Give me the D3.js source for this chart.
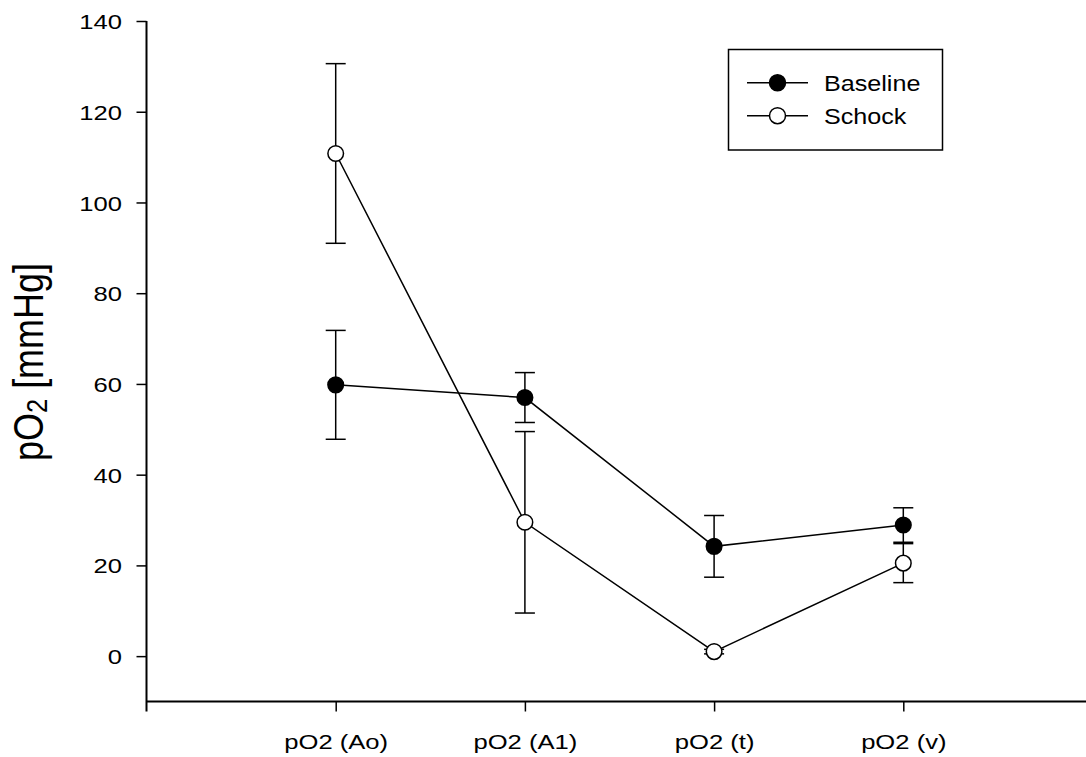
<!DOCTYPE html>
<html>
<head>
<meta charset="utf-8">
<script src="https://cdn.jsdelivr.net/npm/d3@7/dist/d3.min.js"></script>
<style>
  html, body { margin: 0; padding: 0; background: #fff; }
  svg text { font-family: "Liberation Sans", Arial, sans-serif; fill: #000; }
</style>
</head>
<body>
<svg id="chart" width="1086" height="757"></svg>
<script>
// ---- data ----
const categories = ["pO2 (Ao)", "pO2 (A1)", "pO2 (t)", "pO2 (v)"];
const baselineMean = [59.8, 57.0, 24.2, 28.9];
const baselineErr  = [12.0, 5.5, 6.8, 3.8];
const schockMean   = [110.8, 29.5, 1.0, 20.5];
const schockErr    = [19.8, 20.0, 0.5, 4.3];
const yTicks = [0, 20, 40, 60, 80, 100, 120, 140];
const seriesNames = ["Baseline", "Schock"];

const SX = 1.22; // horizontal text stretch seen in the reference

const svg = d3.select("#chart");
const x = d3.scaleLinear().domain([0, 5]).range([146.5, 1092.5]);
const y = d3.scaleLinear().domain([-10, 140]).range([701.5, 21]);

// y axis
const yAxis = svg.append("g").attr("transform", `translate(${x(0)},0)`)
  .call(d3.axisLeft(y).tickValues(yTicks).tickSize(10).tickSizeOuter(0));
yAxis.select(".domain").attr("stroke", "#000").attr("stroke-width", 2)
  .attr("d", `M0,${y(140)}V${y(-10) + 10}`);
yAxis.selectAll(".tick line").attr("stroke", "#000").attr("stroke-width", 1.5);
yAxis.selectAll(".tick text")
  .attr("font-size", 21).attr("font-family", "Liberation Sans, Arial, sans-serif")
  .attr("x", -24.5 / SX).attr("dy", "0.36em")
  .attr("transform", `scale(${SX},1)`);

// x axis
const xAxis = svg.append("g").attr("transform", `translate(0,${y(-10)})`)
  .call(d3.axisBottom(x).tickValues([1, 2, 3, 4]).tickSize(10).tickSizeOuter(0)
    .tickFormat((d) => categories[d - 1]));
xAxis.select(".domain").attr("stroke", "#000").attr("stroke-width", 2)
  .attr("d", `M${x(0)},0H1086`);
xAxis.selectAll(".tick line").attr("stroke", "#000").attr("stroke-width", 1.5);
xAxis.selectAll(".tick text")
  .attr("font-size", 21).attr("font-family", "Liberation Sans, Arial, sans-serif")
  .attr("y", 47.5).attr("dy", 0)
  .attr("transform", `scale(${SX},1)`);

// y title
const yt = svg.append("text")
  .attr("transform", `translate(43,362) rotate(-90) scale(1,1.18)`)
  .attr("text-anchor", "middle")
  .attr("font-size", 36);
yt.append("tspan").text("pO");
yt.append("tspan").attr("font-size", 25.5).attr("dy", 3).text("2");
yt.append("tspan").attr("dy", -3).text(" [mmHg]");

// series
const idx = d3.range(categories.length);
const series = [
  { name: seriesNames[0], mean: baselineMean, err: baselineErr, fill: "#000" },
  { name: seriesNames[1], mean: schockMean, err: schockErr, fill: "#fff" }
];
const line = d3.line().x((i) => x(i + 1));

series.forEach((s) => {
  svg.append("path")
    .attr("d", line.y((i) => y(s.mean[i]))(idx))
    .attr("fill", "none").attr("stroke", "#000").attr("stroke-width", 1.5);
});
series.forEach((s) => {
  const g = svg.append("g").attr("stroke", "#000").attr("stroke-width", 1.5);
  idx.forEach((i) => {
    const cx = x(i + 1), top = y(s.mean[i] + s.err[i]), bot = y(s.mean[i] - s.err[i]);
    g.append("line").attr("x1", cx).attr("x2", cx).attr("y1", top).attr("y2", bot);
    g.append("line").attr("x1", cx - 10).attr("x2", cx + 10).attr("y1", top).attr("y2", top);
    g.append("line").attr("x1", cx - 10).attr("x2", cx + 10).attr("y1", bot).attr("y2", bot);
  });
});
series.forEach((s) => {
  svg.append("g").selectAll("circle").data(idx).join("circle")
    .attr("cx", (i) => x(i + 1)).attr("cy", (i) => y(s.mean[i]))
    .attr("r", 7.8).attr("fill", s.fill).attr("stroke", "#000").attr("stroke-width", 1.5);
});

// legend
const lg = svg.append("g");
lg.append("rect").attr("x", 728.5).attr("y", 49.5).attr("width", 214).attr("height", 100.5)
  .attr("fill", "#fff").attr("stroke", "#000").attr("stroke-width", 1.5);
series.forEach((s, k) => {
  const ly = 82.7 + k * 33;
  lg.append("line").attr("x1", 747).attr("x2", 808).attr("y1", ly).attr("y2", ly)
    .attr("stroke", "#000").attr("stroke-width", 1.5);
  lg.append("circle").attr("cx", 777.5).attr("cy", ly).attr("r", 8)
    .attr("fill", s.fill).attr("stroke", "#000").attr("stroke-width", 1.5);
  lg.append("text").attr("transform", `translate(824,${ly + 7.8}) scale(1.17,1)`)
    .attr("font-size", 21.5).text(s.name);
});
</script>
</body>
</html>
